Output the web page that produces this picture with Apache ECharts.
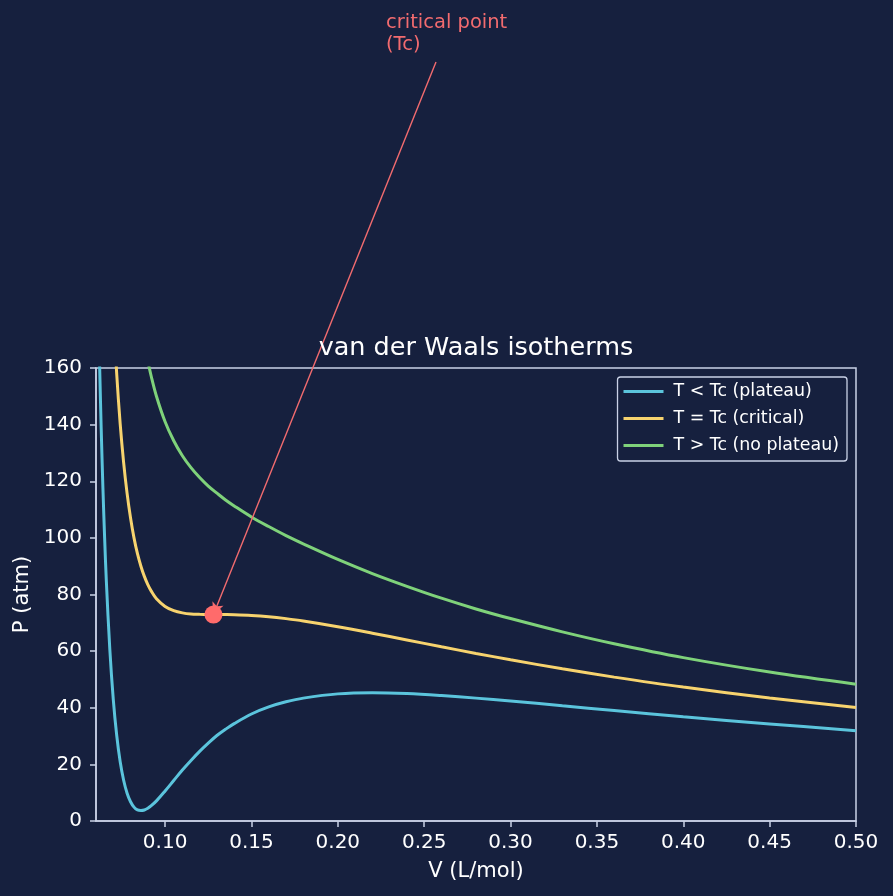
<!DOCTYPE html>
<html>
<head>
<meta charset="utf-8">
<script src="https://cdn.jsdelivr.net/npm/echarts@6/dist/echarts.min.js"></script>
<style>
  html, body { margin: 0; padding: 0; background: #16203e; }
  #chart { width: 893px; height: 896px; }
</style>
</head>
<body>
<div id="chart"></div>
<script>
// isotherm readings: volume (L/mol) and pressure (atm)
const volLow = [0.062, 0.063, 0.064, 0.065, 0.066, 0.068, 0.070, 0.072, 0.074, 0.076, 0.078, 0.080, 0.082, 0.084, 0.086, 0.088, 0.090, 0.092, 0.095, 0.100, 0.105, 0.110, 0.115, 0.120, 0.125, 0.130, 0.135, 0.140, 0.150, 0.160, 0.170, 0.180, 0.200, 0.220, 0.240, 0.260, 0.280, 0.300, 0.330, 0.360, 0.400, 0.450, 0.500];
const presLow = [163.3, 138.7, 117.7, 99.9, 84.6, 60.6, 43.0, 30.2, 20.9, 14.4, 9.8, 6.8, 4.9, 3.9, 3.7, 3.9, 4.5, 5.4, 7.1, 10.6, 14.3, 18.0, 21.4, 24.6, 27.5, 30.2, 32.4, 34.4, 37.8, 40.3, 42.1, 43.4, 44.9, 45.3, 45.0, 44.3, 43.4, 42.4, 40.7, 39.0, 36.8, 34.3, 31.9];

const volCrit = [0.070, 0.072, 0.074, 0.076, 0.078, 0.080, 0.082, 0.084, 0.086, 0.088, 0.090, 0.092, 0.095, 0.100, 0.105, 0.110, 0.115, 0.120, 0.125, 0.130, 0.135, 0.140, 0.150, 0.160, 0.170, 0.180, 0.200, 0.220, 0.240, 0.260, 0.280, 0.300, 0.330, 0.360, 0.400, 0.450, 0.500];
const presCrit = [179.9, 157.8, 140.3, 126.6, 115.7, 107.0, 100.0, 94.4, 90.0, 86.4, 83.5, 81.2, 78.5, 75.8, 74.3, 73.5, 73.1, 73.0, 72.95, 72.94, 72.93, 72.88, 72.62, 72.16, 71.48, 70.65, 68.63, 66.34, 63.94, 61.54, 59.19, 56.94, 53.74, 50.82, 47.29, 43.44, 40.12];

const volHigh = [0.090, 0.092, 0.095, 0.100, 0.105, 0.110, 0.115, 0.120, 0.125, 0.130, 0.135, 0.140, 0.150, 0.160, 0.170, 0.180, 0.200, 0.220, 0.240, 0.260, 0.280, 0.300, 0.330, 0.360, 0.400, 0.450, 0.500];
const presHigh = [162.5, 157.0, 150.0, 141.0, 134.3, 129.0, 124.8, 121.3, 118.3, 115.8, 113.4, 111.3, 107.4, 104.0, 100.8, 97.9, 92.4, 87.4, 82.9, 78.7, 74.9, 71.5, 66.8, 62.6, 57.7, 52.6, 48.3];

const criticalPoint = [0.128, 72.9];

const seriesNames = ["T < Tc (plateau)", "T = Tc (critical)", "T > Tc (no plateau)"];
const xTicks = [0.10, 0.15, 0.20, 0.25, 0.30, 0.35, 0.40, 0.45, 0.50];

const pair = (xs, ys) => xs.map((x, i) => [x, ys[i]]);

const axisColor = "#c9d1e6";
const font = "DejaVu Sans";

const chart = echarts.init(document.getElementById("chart"));

const curve = (name, xs, ys, color) => ({
  name: name,
  type: "line",
  data: pair(xs, ys),
  smooth: 0.35,
  showSymbol: false,
  symbol: "none",
  clip: true,
  lineStyle: { color: color, width: 3 },
  itemStyle: { color: color },
  z: 2,
});

const option = {
  backgroundColor: "#16203e",
  animation: false,
  textStyle: { fontFamily: font },
  title: {
    text: "van der Waals isotherms",
    left: 476,
    textAlign: "center",
    top: 335,
    padding: 0,
    textStyle: { color: "#ffffff", fontSize: 25.5, fontWeight: "normal", fontFamily: font },
  },
  grid: { left: 96, right: 37, top: 368, bottom: 75, show: true, borderColor: axisColor, borderWidth: 1.5, backgroundColor: "transparent" },
  legend: {
    data: seriesNames,
    orient: "vertical",
    right: 46,
    top: 377,
    icon: "rect",
    itemWidth: 40,
    itemHeight: 3,
    itemGap: 10,
    padding: [6, 8, 7, 6],
    backgroundColor: "#16203e",
    borderColor: axisColor,
    borderWidth: 1.3,
    borderRadius: 3,
    textStyle: { color: "#ffffff", fontSize: 17.4, fontFamily: font, padding: [0, 0, 0, 5] },
  },
  xAxis: {
    type: "value",
    min: 0.06,
    max: 0.5,
    name: "V (L/mol)",
    nameLocation: "middle",
    nameGap: 40,
    nameTextStyle: { color: "#ffffff", fontSize: 21, fontFamily: font },
    axisLine: { lineStyle: { color: axisColor, width: 1.5 } },
    axisTick: { show: true, length: 6, customValues: xTicks, lineStyle: { color: axisColor, width: 1.5 } },
    axisLabel: {
      customValues: xTicks,
      color: "#ffffff",
      fontSize: 20,
      margin: 12,
      formatter: (v) => v.toFixed(2),
    },
    splitLine: { show: false },
  },
  yAxis: {
    type: "value",
    min: 0,
    max: 160,
    interval: 20,
    name: "P (atm)",
    nameLocation: "middle",
    nameGap: 61,
    nameTextStyle: { color: "#ffffff", fontSize: 21, fontFamily: font },
    axisLine: { show: true, lineStyle: { color: axisColor, width: 1.5 } },
    axisTick: { show: true, length: 6, lineStyle: { color: axisColor, width: 1.5 } },
    axisLabel: { color: "#ffffff", fontSize: 20, margin: 14 },
    splitLine: { show: false },
  },
  graphic: [
    {
      type: "text",
      left: 386,
      top: 12,
      style: {
        text: "critical point\n(Tc)",
        fill: "#f26b6f",
        font: "19.5px DejaVu Sans",
        lineHeight: 22,
      },
    },
  ],
  series: [
    curve(seriesNames[0], volLow, presLow, "#5bc4dc"),
    curve(seriesNames[1], volCrit, presCrit, "#f7d36e"),
    curve(seriesNames[2], volHigh, presHigh, "#7fd27a"),
    {
      name: "critical point",
      type: "scatter",
      data: [criticalPoint],
      symbolSize: 18,
      clip: false,
      itemStyle: { color: "#ff6b6b", opacity: 1 },
      z: 5,
      markLine: {
        silent: true,
        animation: false,
        symbol: ["none", "arrow"],
        symbolSize: [9, 12],
        lineStyle: { color: "#f26b6f", width: 1.4, type: "solid" },
        label: { show: false },
        data: [[{ x: 436, y: 62 }, { coord: criticalPoint }]],
        z: 4,
      },
    },
  ],
};

chart.setOption(option);
</script>
</body>
</html>
